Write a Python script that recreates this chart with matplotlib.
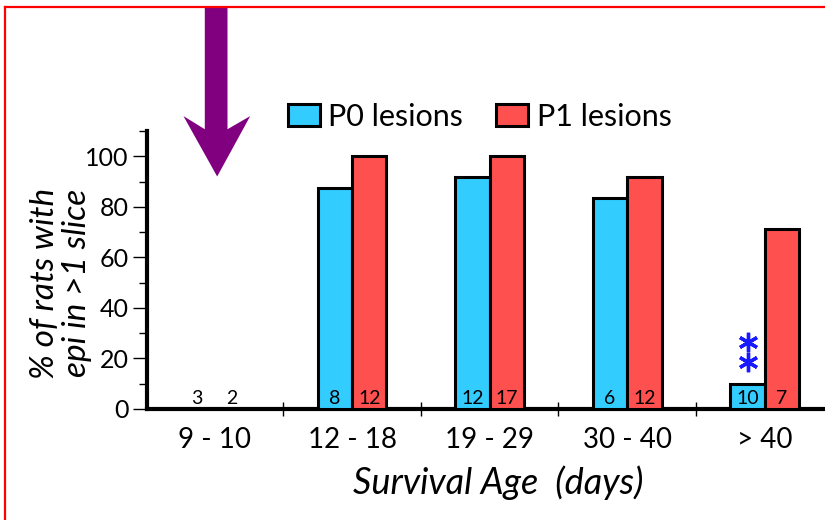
import numpy as np
import matplotlib
matplotlib.use("Agg")
import matplotlib.pyplot as plt
from matplotlib.patches import Polygon, Patch
from matplotlib.lines import Line2D
from matplotlib.ticker import MultipleLocator

plt.rcParams['font.family'] = ['Lato', 'DejaVu Sans']

# survival age groups and % of rats with epileptiform activity in >1 slice
groups = ['9 - 10', '12 - 18', '19 - 29', '30 - 40', '> 40']
p0_pct = [0, 87.5, 91.7, 83.3, 10.0]
p1_pct = [0, 100, 100, 91.7, 71.4]
p0_n = [3, 8, 12, 6, 10]
p1_n = [2, 12, 17, 12, 7]

blue = '#33CCFF'
red = '#FF5050'
purple = '#800080'

fig = plt.figure(figsize=(8.25, 5.2), dpi=100)
ax = fig.add_axes([147 / 825, 111 / 520, 1 - 147 / 825, 278 / 520])

x = np.arange(len(groups))
w = 0.25
ax.bar(x - w / 2, p0_pct, w, color=blue, edgecolor='black', linewidth=2.2, zorder=3)
ax.bar(x + w / 2, p1_pct, w, color=red, edgecolor='black', linewidth=2.2, zorder=3)

# animal counts written at the foot of each bar
for xi, a, b in zip(x, p0_n, p1_n):
    ax.text(xi - w / 2, 4.3, str(a), ha='center', va='center', fontsize=14, zorder=4)
    ax.text(xi + w / 2, 4.3, str(b), ha='center', va='center', fontsize=14, zorder=4)

# significance mark above the P0 bar of the oldest group
ax.plot([x[4] - w / 2, x[4] - w / 2], [26.6, 18.7], ls='none', marker=(6, 2, 0),
        ms=14, mew=2.4, color='#1a1aff', clip_on=False, zorder=6)

ax.set_xlim(-0.49, 4.437)
ax.set_ylim(0, 110)

for side in ['top', 'right']:
    ax.spines[side].set_visible(False)
ax.spines['left'].set_linewidth(3)
ax.spines['bottom'].set_linewidth(3)

ax.yaxis.set_major_locator(MultipleLocator(20))
ax.yaxis.set_minor_locator(MultipleLocator(10))
ax.tick_params(axis='y', which='major', length=10, width=1, labelsize=18, pad=3)
ax.tick_params(axis='y', which='minor', length=6, width=1)

ax.set_xticks(x)
ax.set_xticklabels(groups)
ax.set_xticks(x[:-1] + 0.5, minor=True)
ax.tick_params(axis='x', which='major', length=0, labelsize=20, pad=13)
ax.tick_params(axis='x', which='minor', direction='inout', length=10, width=1)

fig.text(498 / 825, 1 - 483 / 520, 'Survival Age  (days)', style='italic',
         fontsize=26, ha='center', va='center')
fig.text(61 / 825, 1 - 283 / 520, '% of rats with\nepi in >1 slice', style='italic',
         fontsize=24, rotation=90, ha='center', va='center', linespacing=1.05)

# big purple arrow pointing at the youngest group
arrow = Polygon([(-0.07, 159), (-0.07, 110.7), (-0.225, 115.9), (0.02, 92),
                 (0.26, 115.9), (0.095, 110.7), (0.095, 159)],
                closed=True, facecolor=purple, edgecolor='none', clip_on=False, zorder=5)
ax.add_patch(arrow)

handles = [Patch(facecolor=blue, edgecolor='black', linewidth=2.2, label='P0 lesions'),
           Patch(facecolor=red, edgecolor='black', linewidth=2.2, label='P1 lesions')]
fig.legend(handles=handles, loc='center left', bbox_to_anchor=(288 / 825, 1 - 116.5 / 520),
           ncol=2, frameon=False, fontsize=22, handlelength=1.05, handleheight=0.75,
           handletextpad=0.27, columnspacing=1.08, borderpad=0, borderaxespad=0)

# red frame around the panel
fig.add_artist(Line2D([4.5 / 825, 4.5 / 825], [0, 1 - 7 / 520], color='red', lw=1.6,
                      transform=fig.transFigure))
fig.add_artist(Line2D([4.5 / 825, 1], [1 - 7 / 520, 1 - 7 / 520], color='red', lw=1.6,
                      transform=fig.transFigure))

fig.savefig('out.png', dpi=100)
